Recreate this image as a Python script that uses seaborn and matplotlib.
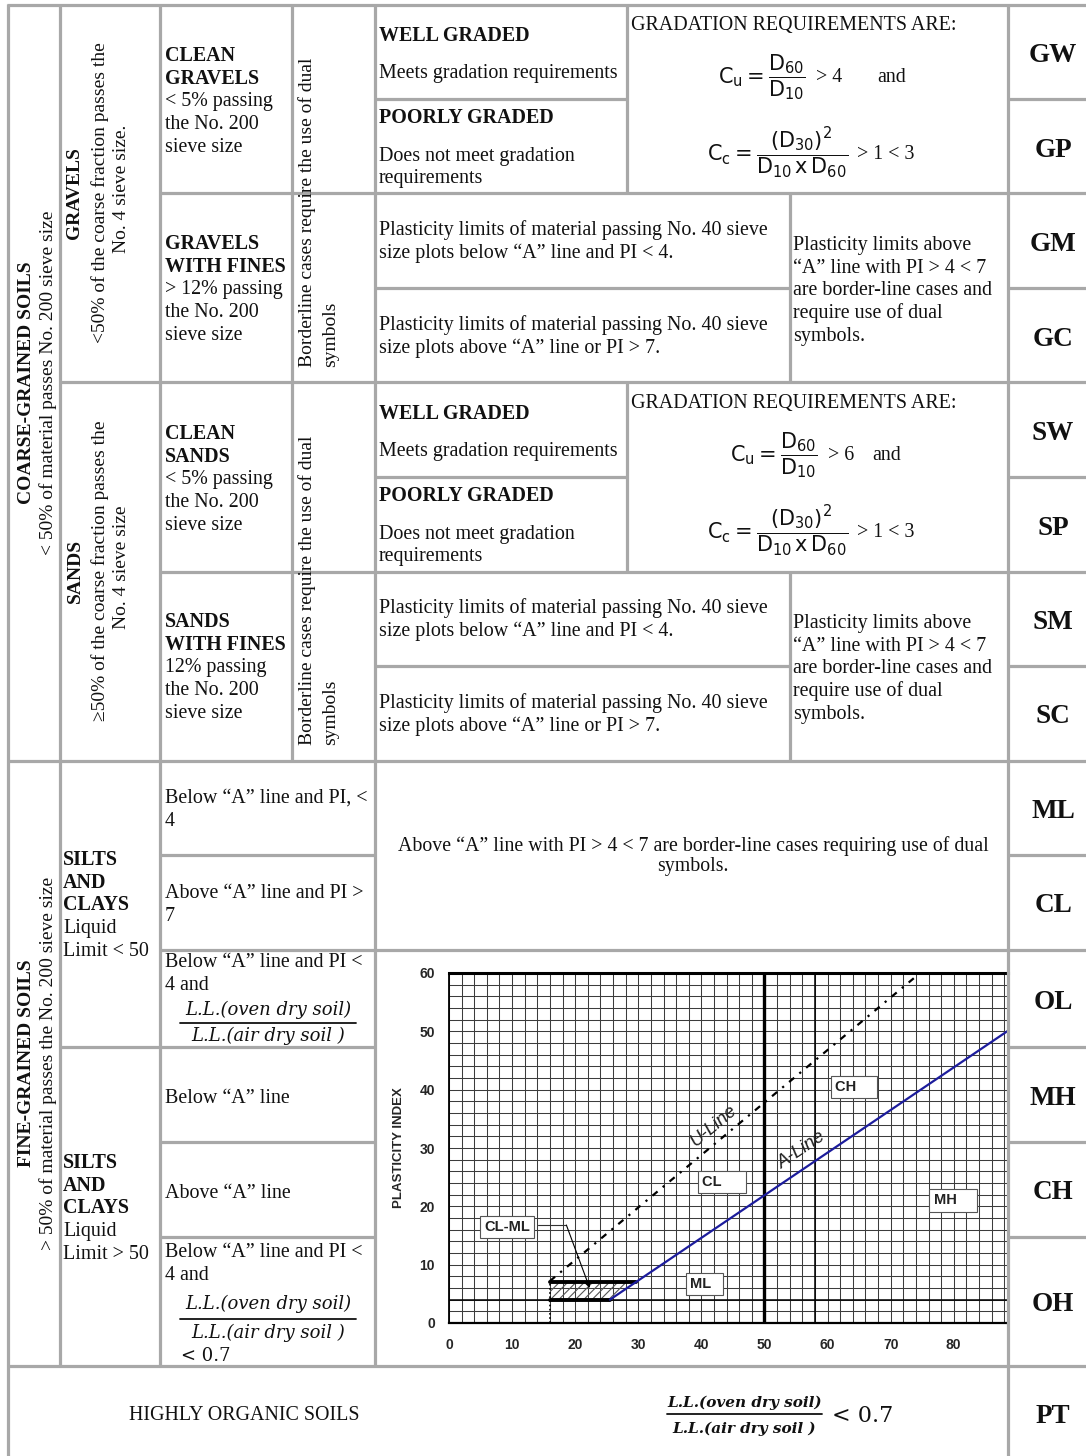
"""
Unified Soil Classification chart (table + plasticity chart)
"""
import numpy as np
import pandas as pd
import matplotlib
matplotlib.use('Agg')
import matplotlib.pyplot as plt
from matplotlib.patches import Polygon
import seaborn as sns

sns.set_style('white')
plt.rcParams['font.family'] = ['Liberation Serif', 'DejaVu Serif']
plt.rcParams['mathtext.fontset'] = 'dejavusans'
plt.rcParams['hatch.linewidth'] = 0.8

SERIF = ['Liberation Serif', 'DejaVu Serif']
SANS = ['Liberation Sans', 'DejaVu Sans']
MATHF = ['DejaVu Serif']
INK = '#111111'
RULE = '#a8a8a8'

# ---------------------------------------------------------------
# data: plasticity chart
# ---------------------------------------------------------------
ll_ticks = [0, 10, 20, 30, 40, 50, 60, 70, 80]
pi_ticks = [0, 10, 20, 30, 40, 50, 60]
a_line_ll = [25.5, 88.6]
a_line_pi = [4.0, 50.1]
u_line_ll = [16.0, 74.0]
u_line_pi = [7.2, 59.4]
clml_ll = [16.0, 25.5, 29.6, 16.0]
clml_pi = [4.0, 4.0, 7.0, 7.0]
leader_ll = [14.1, 18.6]
leader_pi = [16.8, 16.8]
arrow_tip = (22.3, 6.0)
zone_names = ['CL-ML', 'CL', 'CH', 'MH', 'ML']
zone_ll = [9.2, 40.1, 61.2, 76.8, 38.2]
zone_pi = [16.4, 24.2, 40.4, 21.0, 6.7]
line_names = ['U-Line', 'A-Line']
line_lab_ll = [42.0, 55.9]
line_lab_pi = [33.8, 29.6]

# ---------------------------------------------------------------
# data: table text
# ---------------------------------------------------------------
symbols = ['GW', 'GP', 'GM', 'GC', 'SW', 'SP', 'SM', 'SC',
           'ML', 'CL', 'OL', 'MH', 'CH', 'OH', 'PT']
major_groups = ['COARSE-GRAINED SOILS', 'FINE-GRAINED SOILS']
major_notes = ['< 50% of material passes No. 200 sieve size',
               '> 50% of material passes the No. 200 sieve size']
coarse_groups = ['GRAVELS', 'SANDS']
coarse_notes = [('<50% of the coarse fraction passes the', 'No. 4 sieve size.'),
                ('\u226550% of the coarse fraction passes the', 'No. 4 sieve size')]
clean_lines = [[('CLEAN', 'bold'), ('GRAVELS', 'bold'), ('< 5% passing', 'normal'),
                ('the No. 200', 'normal'), ('sieve size', 'normal')],
               [('CLEAN', 'bold'), ('SANDS', 'bold'), ('< 5% passing', 'normal'),
                ('the No. 200', 'normal'), ('sieve size', 'normal')]]
fines_lines = [[('GRAVELS', 'bold'), ('WITH FINES', 'bold'), ('> 12% passing', 'normal'),
                ('the No. 200', 'normal'), ('sieve size', 'normal')],
               [('SANDS', 'bold'), ('WITH FINES', 'bold'), ('12% passing', 'normal'),
                ('the No. 200', 'normal'), ('sieve size', 'normal')]]
cu_limits = ['> 4', '> 6']
borderline = ['Borderline cases require the use of dual', 'symbols']
below_a = ['Plasticity limits of material passing No. 40 sieve',
           'size plots below \u201cA\u201d line and PI < 4.']
above_a = ['Plasticity limits of material passing No. 40 sieve',
           'size plots above \u201cA\u201d line or PI > 7.']
dual_note = ['Plasticity limits above', '\u201cA\u201d line with PI > 4 < 7',
             'are border-line cases and', 'require use of dual', 'symbols.']
fine_groups = [['SILTS', 'AND', 'CLAYS', 'Liquid', 'Limit < 50'],
               ['SILTS', 'AND', 'CLAYS', 'Liquid', 'Limit > 50']]
merged_note = ['Above \u201cA\u201d line with PI > 4 < 7 are border-line cases requiring use of dual',
               'symbols.']

# ---------------------------------------------------------------
# layout (pixels, origin top-left)
# ---------------------------------------------------------------
W, H = 1086, 1456
h_rules = [(5, 8, 1086), (99, 375, 627), (99, 1008, 1086), (193, 160, 1086),
           (288, 375, 790), (288, 1008, 1086), (382, 60, 1086),
           (477, 375, 627), (477, 1008, 1086), (572, 160, 1086),
           (666, 375, 790), (666, 1008, 1086), (761, 8, 1086),
           (855, 160, 375), (855, 1008, 1086), (950, 160, 1086),
           (1047, 60, 375), (1047, 1008, 1086), (1142, 160, 375), (1142, 1008, 1086),
           (1237, 160, 375), (1237, 1008, 1086), (1366, 8, 1086)]
v_rules = [(8, 5, 1456), (60, 5, 1366), (160, 5, 1366), (292, 5, 761),
           (375, 5, 1366), (627, 5, 193), (627, 382, 572), (790, 193, 382),
           (790, 572, 761), (1008, 5, 1456)]
sym_base = [62, 157, 251, 346, 440, 535, 629, 723, 818, 912, 1009, 1105, 1199, 1311, 1423]
STEP = 22.7
FS = 14.4

fig = plt.figure(figsize=(W / 100, H / 100), dpi=100)

# ---------------------------------------------------------------
# plasticity chart
# ---------------------------------------------------------------
ax = fig.add_axes([449 / W, (H - 1323) / H, 559 / W, 350 / H])

ax.add_patch(Polygon(np.column_stack([clml_ll, clml_pi]), closed=True, fill=False,
                     hatch='////', edgecolor='#555555', lw=0, zorder=3))
sns.lineplot(x=[clml_ll[0], clml_ll[2]], y=[clml_pi[2], clml_pi[2]], ax=ax,
             color='black', lw=2.8, zorder=4)
sns.lineplot(x=[clml_ll[0], clml_ll[1]], y=[clml_pi[0], clml_pi[0]], ax=ax,
             color='black', lw=2.8, zorder=4)
ax.plot([clml_ll[0], clml_ll[0]], [0, clml_pi[2]], color='black', lw=1.2,
        ls=(0, (1, 1.5)), zorder=4)

line_df = pd.DataFrame({'LL': a_line_ll + u_line_ll,
                        'PI': a_line_pi + u_line_pi,
                        'line': ['A'] * 2 + ['U'] * 2})
sns.lineplot(data=line_df[line_df['line'] == 'A'], x='LL', y='PI', ax=ax,
             color='#1c1c9c', lw=1.6, zorder=5)
sns.lineplot(data=line_df[line_df['line'] == 'U'], x='LL', y='PI', ax=ax,
             color='black', lw=1.6, ls=(0, (3, 3, 1, 3)), zorder=5)

ax.set_xlim(0, 88.6)
ax.set_ylim(0, 60)
ax.set_xticks(ll_ticks)
ax.set_yticks(pi_ticks)
ax.set_xticks(np.arange(0, 90, 2), minor=True)
ax.set_yticks(np.arange(0, 61, 2), minor=True)
ax.grid(which='both', color='#3c3c3c', lw=0.75)
ax.set_axisbelow(True)
ax.tick_params(which='both', length=0, labelsize=10)
ax.tick_params(axis='x', pad=11)
ax.tick_params(axis='y', pad=10)
for lab in ax.get_xticklabels() + ax.get_yticklabels():
    lab.set_fontfamily(SANS)
    lab.set_fontweight('bold')
ax.set_xlabel('')
ax.set_ylabel('PLASTICITY INDEX', fontfamily=SANS, fontweight='bold', fontsize=9.5)
ax.yaxis.set_label_coords(-44 / 559, 0.5)
ax.spines['right'].set_visible(False)
ax.spines['left'].set_linewidth(1.3)
ax.spines['bottom'].set_linewidth(1.6)
ax.spines['top'].set_linewidth(2.2)
for s in ax.spines.values():
    s.set_color('black')

ax.axvline(50, color='black', lw=2.4, zorder=3)
ax.axvline(58, color='black', lw=1.1, zorder=3)
ax.axhline(4, color='black', lw=1.1, zorder=3)

ax.plot(leader_ll, leader_pi, color='#333333', lw=0.8, zorder=6)
ax.annotate('', xy=arrow_tip, xytext=(leader_ll[1], leader_pi[1]),
            arrowprops=dict(arrowstyle='-|>', color='black', lw=0.8,
                            mutation_scale=9, shrinkA=0, shrinkB=0), zorder=6)

pads = {'CL-ML': '', 'CL': '     ', 'CH': '    ', 'MH': '    ', 'ML': '  '}
for name, x, y in zip(zone_names, zone_ll, zone_pi):
    ha = 'center' if name == 'CL-ML' else 'left'
    ax.text(x, y, name + pads[name], ha=ha, va='center', fontfamily=SANS, fontweight='bold',
            fontsize=10.5, color='#222222', zorder=7,
            bbox=dict(boxstyle='square,pad=0.28', fc='white', ec='#555555', lw=0.8))

ax.text(line_lab_ll[0], line_lab_pi[0], line_names[0], rotation=40, ha='center',
        va='center', fontfamily=SANS, style='italic', fontsize=13.5, color='#222222', zorder=7)
ax.text(line_lab_ll[1], line_lab_pi[1], line_names[1], rotation=34, ha='center',
        va='center', fontfamily=SANS, style='italic', fontsize=13.5, color='#222222', zorder=7)

# ---------------------------------------------------------------
# table overlay (pixel coordinates)
# ---------------------------------------------------------------
tab = fig.add_axes([0, 0, 1, 1])
tab.set_xlim(0, W)
tab.set_ylim(H, 0)
tab.axis('off')
tab.patch.set_alpha(0)

for y, x0, x1 in h_rules:
    tab.plot([x0 - 1, x1 + 1], [y, y], color=RULE, lw=2.3, solid_capstyle='butt')
for x, y0, y1 in v_rules:
    tab.plot([x, x], [y0 - 1, y1 + 1], color=RULE, lw=2.3, solid_capstyle='butt')


def put(x, y, s, size=FS, weight='normal', ha='left', va='baseline', family=SERIF, **kw):
    tab.text(x, y, s, fontsize=size, fontweight=weight, ha=ha, va=va,
             fontfamily=family, color=INK, **kw)


def stack(x, y0, lines, step=STEP, size=FS):
    for i, item in enumerate(lines):
        if isinstance(item, tuple):
            txt, wt = item
        else:
            txt, wt = item, 'normal'
        put(x, y0 + i * step, txt, size=size, weight=wt)


def ll_fraction(x0, x1, y_num, y_bar, y_den, size, weight='normal'):
    xc = (x0 + x1) / 2
    put(xc, y_num, 'L.L.(oven dry soil)', size=size, weight=weight, ha='center',
        family=MATHF, style='italic')
    tab.plot([x0, x1], [y_bar, y_bar], color=INK, lw=1.3)
    put(xc, y_den, 'L.L.(air dry soil )', size=size, weight=weight, ha='center',
        family=MATHF, style='italic')


# symbols column
for s, yb in zip(symbols, sym_base):
    put(1053, yb, s, size=19.5, weight='bold', ha='center')

# major groups (rotated)
for yc, name, note in zip([383, 1063], major_groups, major_notes):
    put(27, yc, name, size=14, weight='bold', ha='center', va='center', rotation=90)
    put(48, yc, note, size=14, ha='center', va='center', rotation=90)

# coarse-grained sections
for k, d in enumerate([0, 378]):
    yc = 193 + d
    put(75, yc, coarse_groups[k], size=14, weight='bold', ha='center', va='center', rotation=90)
    put(100, yc, coarse_notes[k][0], size=14, ha='center', va='center', rotation=90)
    put(122, yc - 4, coarse_notes[k][1], size=14, ha='center', va='center', rotation=90)

    stack(165, 61 + d, clean_lines[k])
    stack(165, 249 + d, fines_lines[k])

    tab.text(307, 367 + d, borderline[0], fontsize=14, rotation=90, rotation_mode='anchor',
             ha='left', va='center', fontfamily=SERIF, color=INK)
    tab.text(331, 367 + d, borderline[1], fontsize=14, rotation=90, rotation_mode='anchor',
             ha='left', va='center', fontfamily=SERIF, color=INK)

    put(379, 41 + d, 'WELL GRADED', weight='bold')
    put(379, 78 + d, 'Meets gradation requirements')
    put(379, 123 + d, 'POORLY GRADED', weight='bold')
    stack(379, 161 + d, ['Does not meet gradation', 'requirements'], step=22)

    put(631, 30 + d, 'GRADATION REQUIREMENTS ARE:', size=FS)
    cx = 762 + (12 if k else 0)
    tab.text(cx, 77 + d, r'$\mathsf{C_u = \dfrac{D_{60}}{D_{10}}}$', fontsize=15,
             ha='center', va='center', color=INK)
    put(cx + 54, 82 + d, cu_limits[k])
    put(877 if k == 0 else 872, 82 + d, 'and')
    tab.text(778, 153 + d, r'$\mathsf{C_c = \dfrac{(D_{30})^2}{D_{10}\,x\,D_{60}}}$',
             fontsize=15, ha='center', va='center', color=INK)
    put(857, 159 + d, '> 1 < 3')

    stack(379, 235 + d, below_a)
    stack(379, 330 + d, above_a)
    stack(793, 250 + d, dual_note)

# fine-grained section
stack(63, 865, [(fine_groups[0][0], 'bold'), (fine_groups[0][1], 'bold'),
                (fine_groups[0][2], 'bold'), fine_groups[0][3], fine_groups[0][4]])
stack(63, 1168, [(fine_groups[1][0], 'bold'), (fine_groups[1][1], 'bold'),
                 (fine_groups[1][2], 'bold'), fine_groups[1][3], fine_groups[1][4]])

stack(165, 803, ['Below \u201cA\u201d line and PI, <', '4'])
stack(165, 898, ['Above \u201cA\u201d line and PI >', '7'])
stack(165, 967, ['Below \u201cA\u201d line and PI <', '4 and'])
ll_fraction(180, 356, 1015, 1023, 1041, 13)
put(165, 1103, 'Below \u201cA\u201d line')
put(165, 1198, 'Above \u201cA\u201d line')
stack(165, 1257, ['Below \u201cA\u201d line and PI <', '4 and'])
ll_fraction(180, 356, 1309, 1319, 1338, 13)
put(181, 1361, '< 0.7', size=13, family=MATHF)

put(693, 851, merged_note[0], size=14.3, ha='center')
put(693, 871, merged_note[1], size=14.3, ha='center')

# highly organic soils
put(244, 1420, 'HIGHLY ORGANIC SOILS', ha='center')
ll_fraction(667, 822, 1407, 1414, 1433, 11, weight='bold')
put(832, 1422, '< 0.7', size=16, family=MATHF)

plt.savefig('out.png', dpi=100)
plt.close()
